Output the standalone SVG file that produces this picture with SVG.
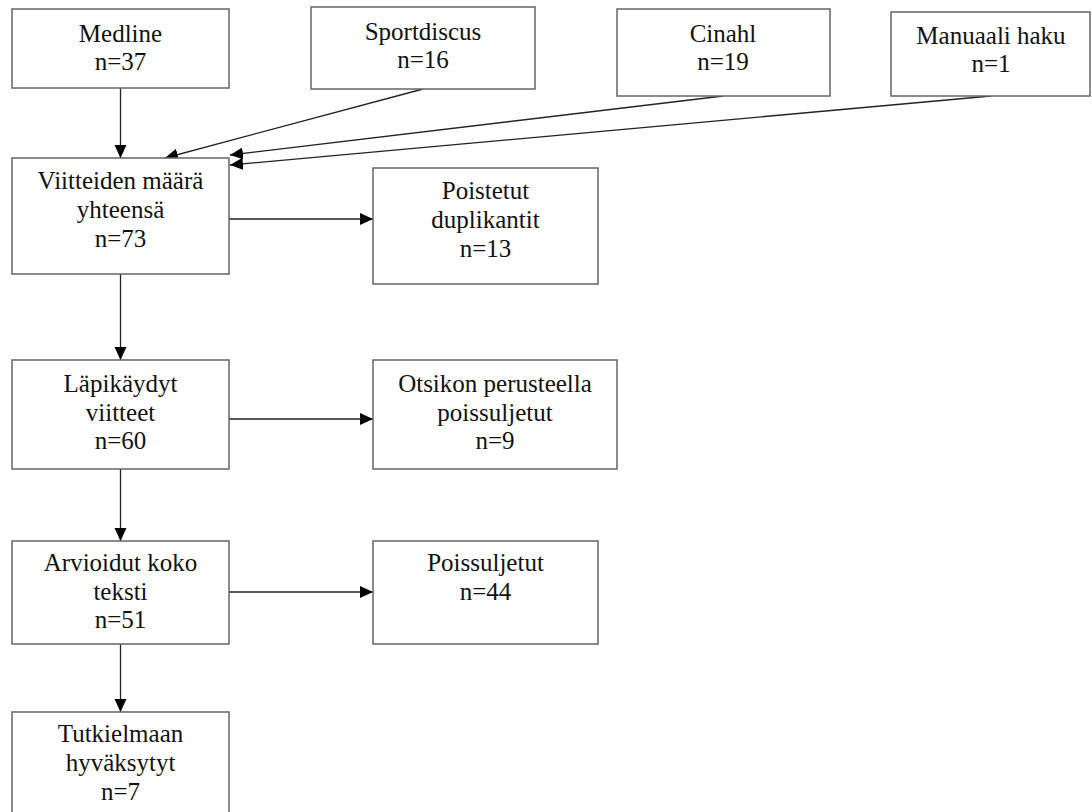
<svg xmlns="http://www.w3.org/2000/svg" width="1092" height="812" viewBox="0 0 1092 812">
<style>
.box{fill:#fff;stroke:#666;stroke-width:1.5}
.t{font-family:"Liberation Serif","Times New Roman",serif;font-size:25px;fill:#111;text-anchor:middle}
.c{stroke:#222;stroke-width:1.3;fill:none;marker-end:url(#ah)}
</style>
<defs>
<marker id="ah" markerUnits="userSpaceOnUse" markerWidth="14" markerHeight="13" refX="13" refY="6" orient="auto">
<path d="M0,0 L13,6 L0,12 z" fill="#000"/>
</marker>
</defs>
<rect width="1092" height="812" fill="#fff"/>
<g id="connectors">
<line class="c" x1="120.5" y1="88" x2="120.5" y2="158"/>
<line class="c" x1="423" y1="89" x2="165" y2="158"/>
<line class="c" x1="723" y1="96" x2="230" y2="155"/>
<line class="c" x1="991" y1="96" x2="230" y2="165"/>
<line class="c" x1="229" y1="219" x2="373" y2="219"/>
<line class="c" x1="120.5" y1="274" x2="120.5" y2="360"/>
<line class="c" x1="229" y1="419" x2="373" y2="419"/>
<line class="c" x1="120.5" y1="469" x2="120.5" y2="541"/>
<line class="c" x1="229" y1="592" x2="373" y2="592"/>
<line class="c" x1="120.5" y1="644" x2="120.5" y2="712"/>
</g>
<g id="medline">
<rect class="box" x="12" y="9" width="217" height="79"/>
<text class="t" x="120.5" y="42">Medline</text>
<text class="t" x="120.5" y="70">n=37</text>
</g>
<g id="sportdiscus">
<rect class="box" x="311" y="7" width="224" height="82"/>
<text class="t" x="423" y="40">Sportdiscus</text>
<text class="t" x="423" y="68">n=16</text>
</g>
<g id="cinahl">
<rect class="box" x="617" y="9" width="213" height="87"/>
<text class="t" x="723" y="42">Cinahl</text>
<text class="t" x="723" y="70">n=19</text>
</g>
<g id="manuaali">
<rect class="box" x="891" y="12" width="199" height="84"/>
<text class="t" x="991" y="44">Manuaali haku</text>
<text class="t" x="991" y="72">n=1</text>
</g>
<g id="viitteiden">
<rect class="box" x="12" y="158" width="217" height="116"/>
<text class="t" x="120.5" y="189">Viitteiden määrä</text>
<text class="t" x="120.5" y="218">yhteensä</text>
<text class="t" x="120.5" y="247">n=73</text>
</g>
<g id="poistetut">
<rect class="box" x="373" y="168" width="225" height="116"/>
<text class="t" x="485.5" y="199">Poistetut</text>
<text class="t" x="485.5" y="228">duplikantit</text>
<text class="t" x="485.5" y="257">n=13</text>
</g>
<g id="lapikaydyt">
<rect class="box" x="12" y="360" width="217" height="109"/>
<text class="t" x="120.5" y="392">Läpikäydyt</text>
<text class="t" x="120.5" y="421">viitteet</text>
<text class="t" x="120.5" y="449">n=60</text>
</g>
<g id="otsikon">
<rect class="box" x="373" y="360" width="244" height="109"/>
<text class="t" x="495" y="392">Otsikon perusteella</text>
<text class="t" x="495" y="421">poissuljetut</text>
<text class="t" x="495" y="449">n=9</text>
</g>
<g id="arvioidut">
<rect class="box" x="12" y="541" width="217" height="103"/>
<text class="t" x="120.5" y="571">Arvioidut koko</text>
<text class="t" x="120.5" y="600">teksti</text>
<text class="t" x="120.5" y="628">n=51</text>
</g>
<g id="poissuljetut">
<rect class="box" x="373" y="541" width="225" height="103"/>
<text class="t" x="485.5" y="571">Poissuljetut</text>
<text class="t" x="485.5" y="600">n=44</text>
</g>
<g id="tutkielmaan">
<rect class="box" x="12" y="712" width="217" height="110"/>
<text class="t" x="120.5" y="742">Tutkielmaan</text>
<text class="t" x="120.5" y="771">hyväksytyt</text>
<text class="t" x="120.5" y="800">n=7</text>
</g>
</svg>
